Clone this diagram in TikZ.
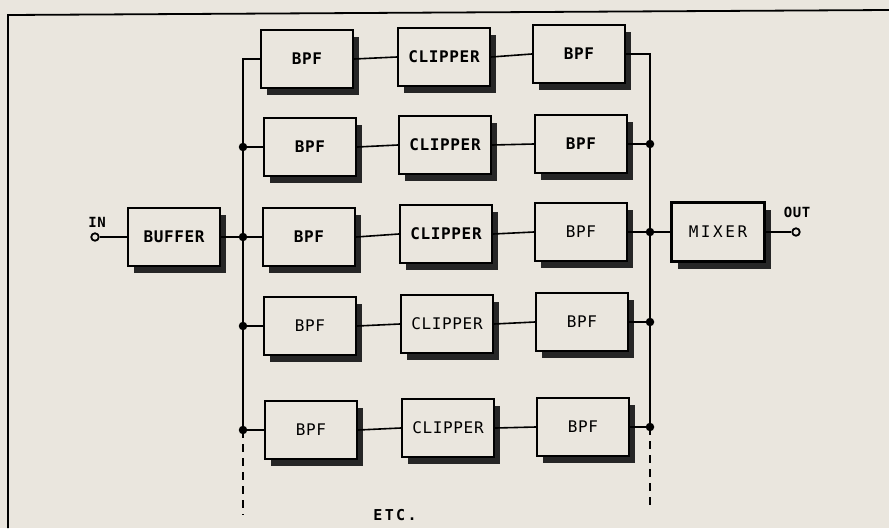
\documentclass[tikz,border=0pt]{standalone}
\usepackage{fontspec}
\setmonofont[LetterSpace=4]{DejaVu Sans Mono}
\newfontfamily\widefont[LetterSpace=16]{DejaVu Sans Mono}
\usepackage{tikz}
\usetikzlibrary{positioning, shadows}
\definecolor{paper}{RGB}{234,230,222}

\tikzset{
  blk/.style={draw, line width=2.4pt, fill=paper, minimum width=92pt, minimum height=58pt,
    inner sep=0pt, font=\ttfamily\bfseries\fontsize{16}{18}\selectfont,
    drop shadow={shadow xshift=6pt, shadow yshift=-7pt, fill=black!85, opacity=1}},
  light/.style={font=\ttfamily\fontsize{16}{18}\selectfont},
  wire/.style={line width=1.6pt},
  dot/.style={circle, fill=black, inner sep=0pt, minimum size=8.5pt},
  term/.style={circle, draw, line width=1.8pt, fill=paper, inner sep=0pt, minimum size=7.5pt},
  lbl/.style={font=\ttfamily\bfseries\fontsize{14}{16}\selectfont}
}

\begin{document}
\begin{tikzpicture}[x=1pt, y=-1pt]
\useasboundingbox (0,0) rectangle (889,528);
\fill[paper] (0,0) rectangle (889,528);
\draw[line width=1.8pt] (889,10) -- (8,15) -- (8,528);

% input side
\node[term] (in) at (95,237) {};
\node[lbl] (inlbl) at (97,222) {IN};
\node[blk] (buf) at (174,237) {BUFFER};

% filter banks
\node[blk] (L1) at (307,59) {BPF};
\node[blk] (L2) at (310,147) {BPF};
\node[blk] (L3) at (309,237) {BPF};
\node[blk, light] (L4) at (310,326) {BPF};
\node[blk, light] (L5) at (311,430) {BPF};

\node[blk] (C1) at (444,57) {CLIPPER};
\node[blk] (C2) at (445,145) {CLIPPER};
\node[blk] (C3) at (446,234) {CLIPPER};
\node[blk, light] (C4) at (447,324) {CLIPPER};
\node[blk, light] (C5) at (448,428) {CLIPPER};

\node[blk] (R1) at (579,54) {BPF};
\node[blk] (R2) at (581,144) {BPF};
\node[blk, light] (R3) at (581,232) {BPF};
\node[blk, light] (R4) at (582,322) {BPF};
\node[blk, light] (R5) at (583,427) {BPF};

% output side
\node[blk, minimum width=93pt, minimum height=59pt, font=\widefont\fontsize{16}{18}\selectfont] (mix) at (718,232) {MIXER};
\node[term] (out) at (796,232) {};
\node[lbl] (outlbl) at (797,212) {OUT};
\node[lbl, font=\widefont\bfseries\fontsize{15}{16}\selectfont] (etc) at (395,515) {ETC.};

\coordinate (lt) at (243,59);
\coordinate (lend) at (243,515);
\coordinate (rt) at (650,54);
\coordinate (rend) at (650,510);

% buses
\draw[wire] (L1.west) -| (L5.west -| lt);
\draw[wire, dash pattern=on 8pt off 6pt] (L5.west -| lt) -- (lend);
\draw[wire] (R1.east) -| (R5.east -| rt);
\draw[wire, dash pattern=on 8pt off 6pt] (R5.east -| rt) -- (rend);

\draw[wire] (in) -- (buf.west);
\draw[wire] (buf.east) -- (L3.west -| lt) node[dot]{} -- (L3.west);
\draw[wire] (L2.west) -- (L2.west -| lt) node[dot]{};
\draw[wire] (L4.west) -- (L4.west -| lt) node[dot]{};
\draw[wire] (L5.west) -- (L5.west -| lt) node[dot]{};

\draw[wire] (L1.east) -- (C1.west) (C1.east) -- (R1.west);
\draw[wire] (L2.east) -- (C2.west) (C2.east) -- (R2.west);
\draw[wire] (L3.east) -- (C3.west) (C3.east) -- (R3.west);
\draw[wire] (L4.east) -- (C4.west) (C4.east) -- (R4.west);
\draw[wire] (L5.east) -- (C5.west) (C5.east) -- (R5.west);

\draw[wire] (R2.east) -- (R2.east -| rt) node[dot]{};
\draw[wire] (R3.east) -- (R3.east -| rt) node[dot]{} -- (mix.west);
\draw[wire] (R4.east) -- (R4.east -| rt) node[dot]{};
\draw[wire] (R5.east) -- (R5.east -| rt) node[dot]{};
\draw[wire] (mix.east) -- (out);

\end{tikzpicture}
\end{document}
